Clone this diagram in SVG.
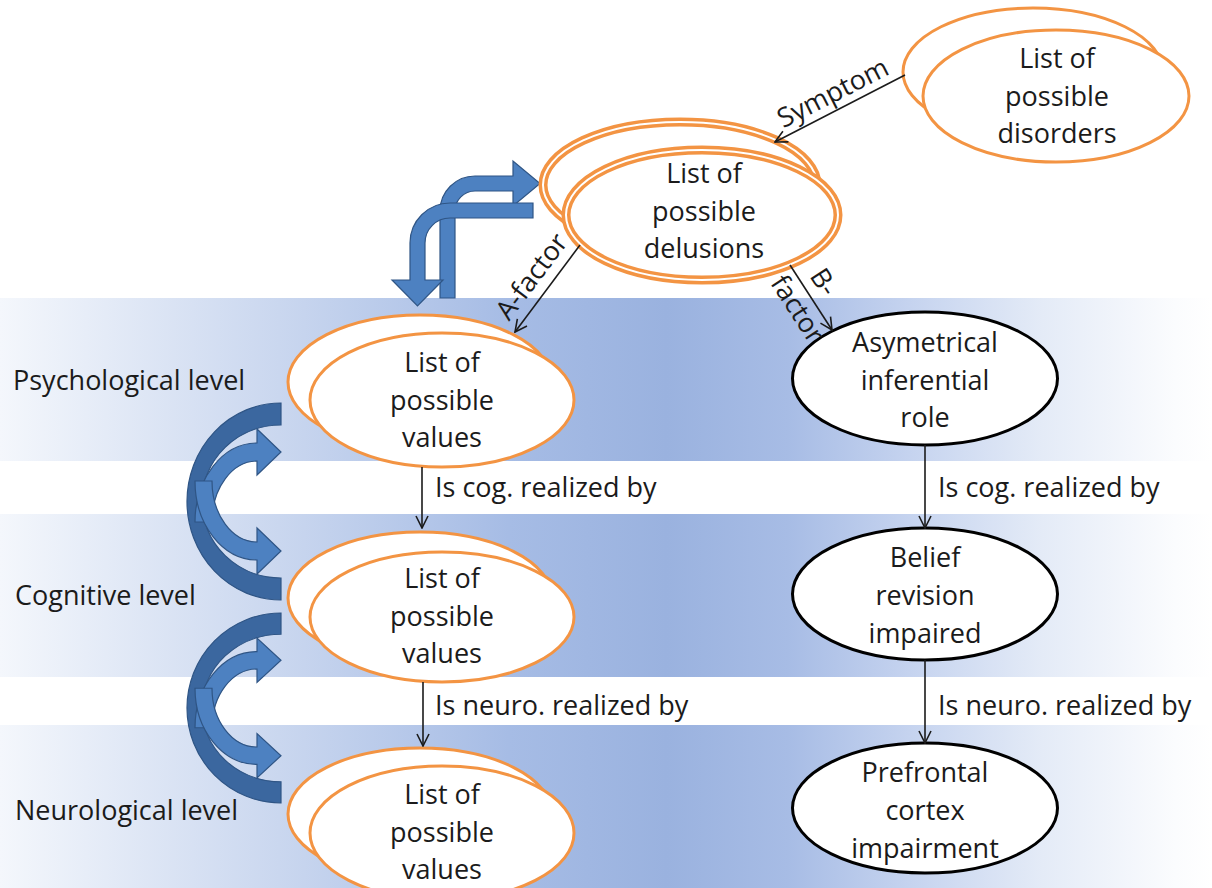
<svg xmlns="http://www.w3.org/2000/svg" width="1212" height="888" viewBox="0 0 1212 888">
<defs>
<linearGradient id="band" gradientUnits="userSpaceOnUse" x1="0" y1="0" x2="1212" y2="0">
<stop offset="0" stop-color="#f4f7fc"/>
<stop offset="0.23" stop-color="#cad7ef"/>
<stop offset="0.42" stop-color="#a6bce5"/>
<stop offset="0.55" stop-color="#9ab2df"/>
<stop offset="0.65" stop-color="#a7bce5"/>
<stop offset="0.75" stop-color="#c5d3ef"/>
<stop offset="0.86" stop-color="#e4ebf7"/>
<stop offset="0.97" stop-color="#fbfcfe"/>
<stop offset="1" stop-color="#ffffff"/>
</linearGradient>
<marker id="arr" viewBox="0 0 14 14" refX="13" refY="7" markerWidth="14" markerHeight="14" markerUnits="userSpaceOnUse" orient="auto">
<path d="M1,1 L13,7 L1,13" fill="none" stroke="#1b1b1b" stroke-width="1.6"/>
</marker>
<g id="curl">
<path class="dk" d="M281,403 A94,98.5 0 0 0 281,600 L281,578 A79,76.5 0 0 1 281,425 Z"/>
<path class="lt" d="M195,522 A62,79 0 0 1 257,443 L257,429 L281,452 L257,475 L257,461 A45,61 0 0 0 212,522 Z"/>
<path class="lt" d="M195,481 A62,79 0 0 0 257,560 L257,574 L281,551 L257,528 L257,542 A45,61 0 0 1 212,481 Z"/>
</g>
</defs>
<style>
text{font-family:"Open Sans","Liberation Sans",sans-serif;font-size:27px;fill:#1b1b1b}
.c{text-anchor:middle}
.o{fill:#fff;stroke:#f39443;stroke-width:3}
.od{fill:#fff;stroke:#f39443;stroke-width:9}
.ow{fill:none;stroke:#fff;stroke-width:2}
.k{fill:#fff;stroke:#000;stroke-width:3}
.e{stroke:#1b1b1b;stroke-width:1.6;fill:none;marker-end:url(#arr)}
.dk{fill:#3b679f;stroke:#2f5585;stroke-width:1.2}
.lt{fill:#4d81c1;stroke:#2f5585;stroke-width:1.2}
</style>
<g id="bands">
<rect x="0" y="298" width="1212" height="163" fill="url(#band)"/>
<rect x="0" y="514" width="1212" height="163" fill="url(#band)"/>
<rect x="0" y="725" width="1212" height="163" fill="url(#band)"/>
</g>
<g id="level-labels">
<text x="13" y="390">Psychological level</text>
<text x="15" y="605">Cognitive level</text>
<text x="15" y="820">Neurological level</text>
</g>
<g id="level-arrows">
<use href="#curl"/>
<use href="#curl" transform="translate(0,708) scale(1,0.964) translate(0,-501.5)"/>
</g>
<g id="loop-arrows">
<path class="lt" d="M440,298 L440,211 A35,35 0 0 1 475,176 L513,176 L513,161 L540,183.5 L513,206 L513,191 L475,191 A20,20 0 0 0 455,211 L455,298 Z"/>
<path class="lt" d="M533,203 L450,203 A40,40 0 0 0 410,243 L410,280 L392,280 L417.5,306 L443,280 L425,280 L425,243 A25,25 0 0 1 450,218 L533,218 Z"/>
</g>
<g id="disorders">
<ellipse class="o" cx="1033" cy="72" rx="130" ry="64"/>
<ellipse class="o" cx="1056" cy="96" rx="133" ry="66"/>
<text class="c" x="1057" y="68">List of</text>
<text class="c" x="1057" y="106">possible</text>
<text class="c" x="1057" y="143">disorders</text>
</g>
<g id="delusions">
<ellipse class="od" cx="680" cy="185" rx="137" ry="63"/>
<ellipse class="ow" cx="680" cy="185" rx="137" ry="63"/>
<ellipse class="od" cx="702" cy="215" rx="136" ry="65"/>
<ellipse class="ow" cx="702" cy="215" rx="136" ry="65"/>
<text class="c" x="704" y="183">List of</text>
<text class="c" x="704" y="221">possible</text>
<text class="c" x="704" y="258">delusions</text>
</g>
<g id="values-psych">
<ellipse class="o" cx="420" cy="382" rx="132" ry="67"/>
<ellipse class="o" cx="442" cy="400" rx="132" ry="67"/>
<text class="c" x="442" y="372">List of</text>
<text class="c" x="442" y="410">possible</text>
<text class="c" x="442" y="447">values</text>
</g>
<g id="values-cog">
<ellipse class="o" cx="420" cy="598" rx="132" ry="66"/>
<ellipse class="o" cx="442" cy="617" rx="132" ry="65"/>
<text class="c" x="442" y="588">List of</text>
<text class="c" x="442" y="626">possible</text>
<text class="c" x="442" y="663">values</text>
</g>
<g id="values-neuro">
<ellipse class="o" cx="420" cy="814" rx="132" ry="66"/>
<ellipse class="o" cx="442" cy="833" rx="132" ry="67"/>
<text class="c" x="442" y="804">List of</text>
<text class="c" x="442" y="842">possible</text>
<text class="c" x="442" y="879">values</text>
</g>
<g id="asymetrical">
<ellipse class="k" cx="925" cy="378.5" rx="132.5" ry="66.5"/>
<text class="c" x="925" y="352">Asymetrical</text>
<text class="c" x="925" y="390">inferential</text>
<text class="c" x="925" y="427">role</text>
</g>
<g id="belief">
<ellipse class="k" cx="925" cy="594" rx="132.5" ry="66"/>
<text class="c" x="925" y="567">Belief</text>
<text class="c" x="925" y="605">revision</text>
<text class="c" x="925" y="643">impaired</text>
</g>
<g id="prefrontal">
<ellipse class="k" cx="925" cy="808" rx="132.5" ry="65"/>
<text class="c" x="925" y="782">Prefrontal</text>
<text class="c" x="925" y="820">cortex</text>
<text class="c" x="925" y="858">impairment</text>
</g>
<g id="connectors">
<line class="e" x1="905" y1="75" x2="775" y2="142"/>
<text class="c" x="837" y="101" transform="rotate(-27 837 101)">Symptom</text>
<line class="e" x1="580" y1="245" x2="515" y2="332"/>
<text class="c" x="539" y="282" transform="rotate(-53 539 282)">A-factor</text>
<line class="e" x1="790" y1="265" x2="832" y2="330"/>
<text class="c" x="816" y="287" transform="rotate(57 816 287)">B-</text>
<text class="c" x="790" y="314" transform="rotate(57 790 314)">factor</text>
<line class="e" x1="422" y1="467" x2="422" y2="528"/>
<text x="435" y="497">Is cog. realized by</text>
<line class="e" x1="423" y1="682" x2="423" y2="746"/>
<text x="435" y="715">Is neuro. realized by</text>
<line class="e" x1="925" y1="445" x2="925" y2="528"/>
<text x="938" y="497">Is cog. realized by</text>
<line class="e" x1="925" y1="660" x2="925" y2="743"/>
<text x="938" y="715">Is neuro. realized by</text>
</g>
</svg>
